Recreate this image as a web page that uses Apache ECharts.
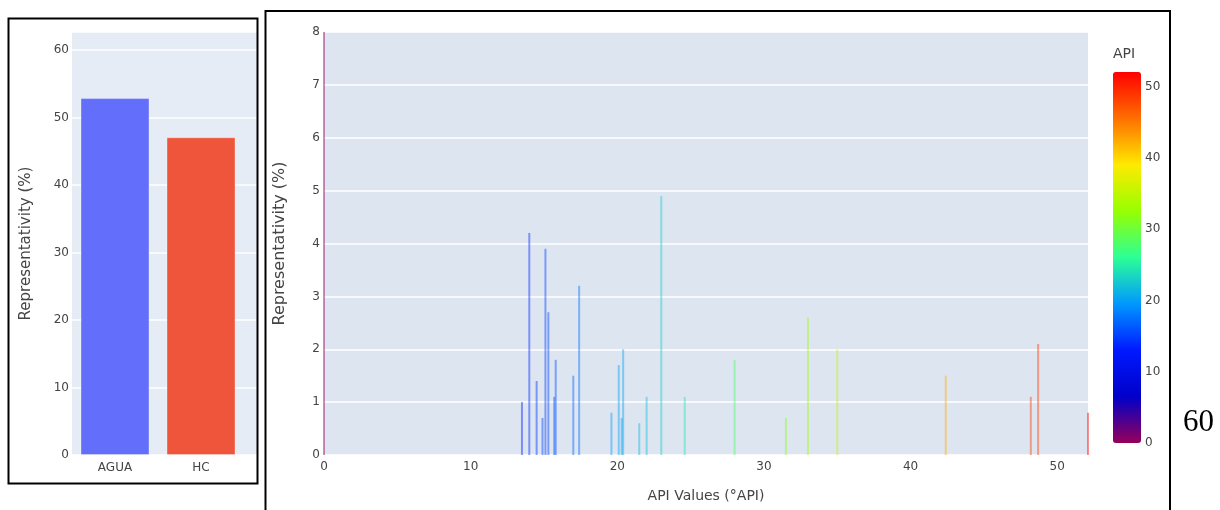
<!DOCTYPE html>
<html>
<head>
<meta charset="utf-8">
<script src="https://cdn.jsdelivr.net/npm/echarts@6/dist/echarts.min.js"></script>
<style>
  html, body { margin: 0; padding: 0; background: #ffffff; }
  #chart { width: 1220px; height: 510px; }
</style>
</head>
<body>
<div id="chart"></div>
<script>
// Share of fluid type
const fluidCategories = ['AGUA', 'HC'];
const fluidShare = [52.9, 47.1];
const fluidColors = ['#636EFA', '#EF553B'];

// Representativity per API gravity value
const apiValues = [0, 13.5, 14.0, 14.5, 14.9, 15.1, 15.3, 15.7, 15.8, 17.0, 17.4,
  19.6, 20.1, 20.3, 20.4, 21.5, 22.0, 23.0, 24.6, 28.0, 31.5, 33.0, 35.0,
  42.4, 48.2, 48.7, 52.1];
const apiShare = [8, 1.0, 4.2, 1.4, 0.7, 3.9, 2.7, 1.1, 1.8, 1.5, 3.2,
  0.8, 1.7, 0.7, 2.0, 0.6, 1.1, 4.9, 1.1, 1.8, 0.7, 2.6, 2.0,
  1.5, 1.1, 2.1, 0.8];

// Colour scale stops (evenly spaced)
const rainbowStops = ['rgb(150,0,90)', 'rgb(0,0,200)', 'rgb(0,25,255)', 'rgb(0,152,255)',
  'rgb(44,255,150)', 'rgb(151,255,0)', 'rgb(255,234,0)', 'rgb(255,111,0)', 'rgb(255,0,0)'];
const apiMax = 52.1;

const FONT = 'DejaVu Sans';
const TXT = '#444444';
const chart = echarts.init(document.getElementById('chart'), null, { renderer: 'canvas' });

const tickLabel = { color: TXT, fontFamily: FONT, fontSize: 12 };

const option = {
  animation: false,
  backgroundColor: '#ffffff',
  title: [
    { text: 'API', left: 1108, top: 42, textStyle: { color: TXT, fontFamily: FONT, fontSize: 14, fontWeight: 'normal' } },
    { text: '60', left: 1178, top: 402, textStyle: { color: '#000', fontFamily: 'Liberation Serif', fontSize: 31, fontWeight: 'normal' } }
  ],
  grid: [
    { left: 72, top: 32, width: 172, height: 423, show: true, backgroundColor: '#E5ECF6', borderWidth: 0 },
    { left: 244, top: 32, width: 13, height: 423, show: true, backgroundColor: '#E5ECF6', borderWidth: 0 },
    { left: 324, top: 32, width: 764, height: 423, show: true, backgroundColor: '#DDE5F1', borderWidth: 0 },
    { left: 1113, top: 72, width: 28, height: 371, show: false }
  ],
  xAxis: [
    {
      gridIndex: 0, type: 'category', data: fluidCategories,
      axisLine: { show: false }, axisTick: { show: false },
      axisLabel: Object.assign({ margin: 7 }, tickLabel)
    },
    { gridIndex: 1, type: 'value', show: false, min: 0, max: 1 },
    {
      gridIndex: 2, type: 'value', min: 0, max: apiMax, interval: 10,
      name: 'API Values (°API)', nameLocation: 'middle', nameGap: 34,
      nameTextStyle: { color: TXT, fontFamily: FONT, fontSize: 14 },
      axisLine: { show: false }, axisTick: { show: false },
      splitLine: { show: false },
      axisLabel: Object.assign({ margin: 6, showMaxLabel: false }, tickLabel)
    },
    { gridIndex: 3, type: 'value', show: false, min: 0, max: 1 }
  ],
  yAxis: [
    {
      gridIndex: 0, type: 'value', min: 0, max: 62.7, interval: 10,
      name: 'Representativity (%)', nameLocation: 'middle', nameGap: 38,
      nameTextStyle: { color: TXT, fontFamily: FONT, fontSize: 15 },
      axisLine: { show: false }, axisTick: { show: false },
      splitLine: { lineStyle: { color: '#ffffff', width: 1.5 } },
      axisLabel: Object.assign({ margin: 3, showMaxLabel: false }, tickLabel)
    },
    {
      gridIndex: 1, type: 'value', min: 0, max: 62.7, interval: 10,
      axisLine: { show: false }, axisTick: { show: false }, axisLabel: { show: false },
      splitLine: { lineStyle: { color: '#ffffff', width: 1.5 } }
    },
    {
      gridIndex: 2, type: 'value', min: 0, max: 8, interval: 1,
      name: 'Representativity (%)', nameLocation: 'middle', nameGap: 36,
      nameTextStyle: { color: TXT, fontFamily: FONT, fontSize: 16 },
      axisLine: { show: false }, axisTick: { show: false },
      splitLine: { lineStyle: { color: '#ffffff', width: 1.5 } },
      axisLabel: Object.assign({ margin: 4 }, tickLabel)
    },
    {
      gridIndex: 3, type: 'value', min: 0, max: apiMax, interval: 10, position: 'right',
      axisLine: { show: false }, axisTick: { show: false }, splitLine: { show: false },
      axisLabel: Object.assign({ margin: 4, showMaxLabel: false }, tickLabel)
    }
  ],
  visualMap: {
    type: 'continuous',
    seriesIndex: 1,
    dimension: 0,
    min: 0, max: apiMax,
    calculable: false,
    orient: 'vertical',
    left: 1113, top: 72,
    itemWidth: 28, itemHeight: 371,
    padding: 0,
    inRange: { color: rainbowStops }
  },
  series: [
    {
      type: 'bar', xAxisIndex: 0, yAxisIndex: 0,
      barWidth: 69,
      data: fluidShare.map((v, i) => ({ value: v, itemStyle: { color: fluidColors[i] } })),
      itemStyle: { borderColor: 'rgba(255,255,255,0.35)', borderWidth: 1 }
    },
    {
      type: 'bar', xAxisIndex: 2, yAxisIndex: 2,
      barWidth: 2, clip: true,
      itemStyle: { opacity: 0.45 },
      data: apiValues.map((a, i) => [a, apiShare[i]])
    }
  ],
  graphic: [
    { type: 'rect', z: 100, shape: { x: 8.5, y: 18.5, width: 249, height: 465 },
      style: { fill: 'none', stroke: '#000', lineWidth: 2 } },
    { type: 'rect', z: 100, shape: { x: 265.5, y: 11, width: 904.5, height: 510 },
      style: { fill: 'none', stroke: '#000', lineWidth: 2 } }
  ]
};

chart.setOption(option);
</script>
</body>
</html>
